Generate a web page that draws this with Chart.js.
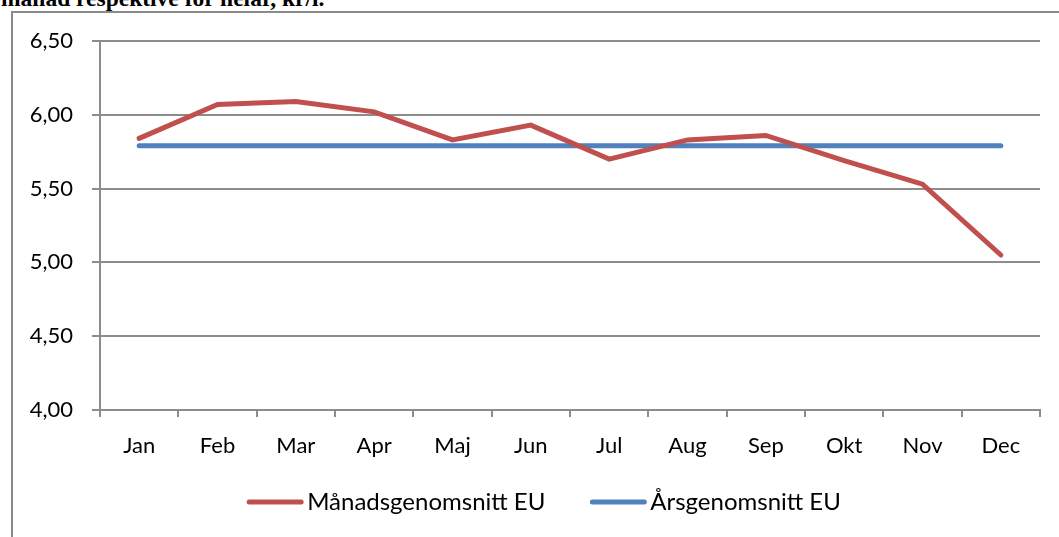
<!DOCTYPE html>
<html lang="sv">
<head>
<meta charset="UTF-8">
<title>Månadsgenomsnitt EU</title>
<script src="https://cdn.jsdelivr.net/npm/chart.js@4.4.1/dist/chart.umd.min.js"></script>
<style>
  html, body { margin: 0; padding: 0; background: #fff; overflow: hidden; }
  #wrap { position: relative; width: 1059px; height: 537px; }
  #caption {
    position: absolute; left: 1px; top: -13px; white-space: nowrap;
    font: bold 23.5px/23px "Liberation Serif", "Times New Roman", serif; color: #000;
  }
  #frame {
    position: absolute; left: 11px; top: 11px; width: 1100px; height: 600px;
    border-left: 2px solid #8a8a8a; border-top: 2px solid #8a8a8a;
  }
  #chart { position: absolute; left: 0; top: 0; }
</style>
</head>
<body>
<div id="wrap">
  <div id="caption">månad respektive för helår, kr/l.</div>
  <div id="frame"></div>
  <canvas id="chart" width="1059" height="537"></canvas>
</div>
<script>
// data
const months = ['Jan', 'Feb', 'Mar', 'Apr', 'Maj', 'Jun', 'Jul', 'Aug', 'Sep', 'Okt', 'Nov', 'Dec'];
const monthlyEU = [5.84, 6.07, 6.09, 6.02, 5.83, 5.93, 5.70, 5.83, 5.86, 5.69, 5.53, 5.05];
const yearlyEU = [5.79, 5.79, 5.79, 5.79, 5.79, 5.79, 5.79, 5.79, 5.79, 5.79, 5.79, 5.79];
const seriesNames = ['Månadsgenomsnitt EU', 'Årsgenomsnitt EU'];

const FONT = 'Lato';
const GRID = '#8c8c8c';

// legend drawn under the plot, Excel style (line + text)
const lineLegend = {
  id: 'lineLegend',
  afterDraw(chart) {
    const ctx = chart.ctx;
    const sets = chart.data.datasets;
    const lineW = 56, gap = 4, between = 45, y = 502;
    ctx.save();
    ctx.font = '24px ' + FONT;
    const widths = sets.map(d => ctx.measureText(d.label).width);
    let total = 0;
    widths.forEach((w, i) => { total += lineW + gap + w + (i ? between : 0); });
    let x = 544 - total / 2;
    sets.forEach((d, i) => {
      ctx.strokeStyle = d.borderColor;
      ctx.lineWidth = 5;
      ctx.lineCap = 'round';
      ctx.beginPath();
      ctx.moveTo(x + 2, y);
      ctx.lineTo(x + lineW - 2, y);
      ctx.stroke();
      ctx.fillStyle = '#000';
      ctx.textBaseline = 'middle';
      ctx.fillText(d.label, x + lineW + gap, y);
      x += lineW + gap + widths[i] + between;
    });
    ctx.restore();
  }
};

new Chart(document.getElementById('chart'), {
  type: 'line',
  data: {
    labels: months,
    datasets: [{
      label: seriesNames[0],
      data: monthlyEU,
      borderColor: '#c0504d',
      borderWidth: 5,
      pointRadius: 0,
      borderCapStyle: 'round',
      tension: 0
    }, {
      label: seriesNames[1],
      data: yearlyEU,
      borderColor: '#4f81bd',
      borderWidth: 5,
      pointRadius: 0,
      borderCapStyle: 'round',
      tension: 0
    }]
  },
  options: {
    responsive: false,
    animation: false,
    layout: { padding: { left: 0, top: 41, right: 19, bottom: 0 } },
    plugins: { legend: { display: false }, tooltip: { enabled: false } },
    scales: {
      x: {
        offset: true,
        grid: { offset: true, drawOnChartArea: false, color: GRID, lineWidth: 2, tickLength: 7 },
        border: { color: GRID, width: 2 },
        ticks: { color: '#000', font: { family: FONT, size: 22 }, padding: 16, maxRotation: 0 },
        afterFit(scale) { scale.height = 127; }
      },
      y: {
        min: 4,
        max: 6.5,
        grid: { color: GRID, lineWidth: 2, tickLength: 8 },
        border: { color: GRID, width: 2 },
        ticks: {
          stepSize: 0.5,
          color: '#000',
          font: { family: FONT, size: 22 },
          padding: 19,
          callback: v => v.toFixed(2).replace('.', ',')
        },
        afterFit(scale) { scale.width = 100; }
      }
    }
  },
  plugins: [lineLegend]
});
</script>
</body>
</html>
